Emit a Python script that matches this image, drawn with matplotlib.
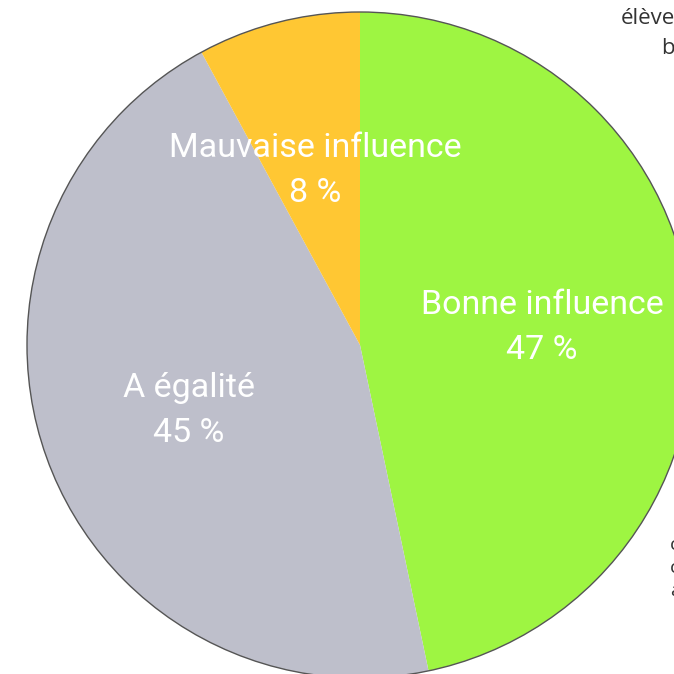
import matplotlib
matplotlib.use("Agg")
import matplotlib.pyplot as plt

categories = ["Bonne influence", "A égalité", "Mauvaise influence"]
values = [46.7, 45.4, 7.9]
colors = ["#9ef542", "#bebfcb", "#ffc733"]

W = H = 674
cx, cy, R = 360, 345, 333

def px(x, y):
    return (x - cx) / R, (cy - y) / R

fig = plt.figure(figsize=(6.74, 6.74), dpi=100)
ax = fig.add_axes([0, 0, 1, 1])
ax.pie(values, colors=colors, startangle=90, counterclock=False,
       wedgeprops=dict(edgecolor="none"), radius=1)
circ = plt.Circle((0, 0), 1, fill=False, edgecolor="#555555", lw=1.0)
ax.add_patch(circ)
ax.set_xlim(px(0, 0)[0], px(W, 0)[0])
ax.set_ylim(px(0, H)[1], px(0, 0)[1])
ax.set_aspect("auto")
ax.axis("off")

label_pos = {"Bonne influence": (542, 305), "A égalité": (189, 388), "Mauvaise influence": (315, 148)}
for cat, v in zip(categories, values):
    x, y = label_pos[cat]
    ax.text(*px(x, y), cat, color="white", fontsize=24.5, family="Roboto", ha="center", va="center")
    ax.text(*px(x, y + 45), f"{round(v)} %", color="white", fontsize=24.5, family="Roboto", ha="center", va="center")

fig.text(621 / W, 1 - 19 / H, "élèves", color="#333333", fontsize=16, family="Open Sans", ha="left", va="center")
fig.text(661 / W, 1 - 48 / H, "bien", color="#333333", fontsize=16, family="Open Sans", ha="left", va="center")
for yy, t in [(545, "c"), (568, "c"), (591, "a")]:
    fig.text(670 / W, 1 - yy / H, t, color="#333333", fontsize=14, family="Open Sans", ha="left", va="center")

fig.savefig("out.png", dpi=100)
